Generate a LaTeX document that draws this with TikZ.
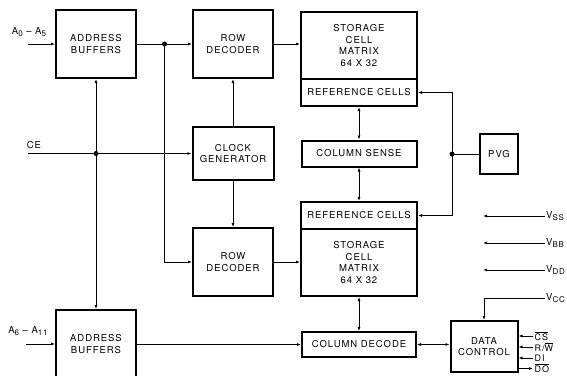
\documentclass[tikz,border=0pt]{standalone}
\usepackage{fontspec}
\newfontfamily\lbl[LetterSpace=10]{TeX Gyre Heros}
\usetikzlibrary{arrows.meta, calc}
\newcommand{\ovl}[1]{$\overline{\hbox{#1}}$}
\newcommand{\sub}[1]{\raisebox{-2.5pt}{\fontsize{8}{8}\selectfont #1}}

\begin{document}
\begin{tikzpicture}[x=1pt, y=-1pt,
        font=\lbl\fontsize{9.5}{11.5}\selectfont,
        blk/.style={draw, line width=2pt, inner sep=0pt, align=center},
        line/.style={-{Latex[length=4pt,width=3pt]}, line width=0.8pt},
        bidir/.style={{Latex[length=4pt,width=3pt]}-{Latex[length=4pt,width=3pt]}, line width=0.8pt},
        dot/.style={circle, fill, inner sep=0pt, minimum size=5pt},
        pin/.style={anchor=west, inner xsep=1.5pt, inner ysep=0pt, font=\lbl\fontsize{9}{10}\selectfont}
    ]
    \clip (0,0) rectangle (567,375);

    % Top half: address buffers, row decoder, matrix
    \node[blk, minimum width=80pt, minimum height=68pt] (abufA) at (96,44) {ADDRESS\\BUFFERS};
    \node[blk, minimum width=80pt, minimum height=68pt] (rdecA) at (233,44) {ROW\\DECODER};
    \node[blk, minimum width=116pt, minimum height=67pt] (matA) at (359,45.5) {STORAGE\\CELL\\MATRIX\\64 X 32};
    \node[blk, minimum width=116pt, minimum height=27pt] (refA) at (359,92.5) {REFERENCE CELLS};

    % Middle: clock, column sense, PVG
    \node[blk, minimum width=81pt, minimum height=53pt] (clk) at (233,153.5) {CLOCK\\GENERATOR};
    \node[blk, minimum width=115pt, minimum height=26pt] (csense) at (359,153.5) {COLUMN SENSE};
    \node[blk, minimum width=38pt, minimum height=40pt] (pvg) at (499,154) {PVG};

    % Bottom half
    \node[blk, minimum width=116pt, minimum height=27pt] (refB) at (359,215.5) {REFERENCE CELLS};
    \node[blk, minimum width=116pt, minimum height=67pt] (matB) at (359,262.5) {STORAGE\\CELL\\MATRIX\\64 X 32};
    \node[blk, minimum width=80pt, minimum height=68pt] (rdecB) at (233,262) {ROW\\DECODER};
    \node[blk, minimum width=114pt, minimum height=25pt] (cdec) at (359,344.5) {COLUMN DECODE};
    \node[blk, minimum width=67pt, minimum height=51pt] (dctl) at (484,346.5) {DATA\\CONTROL};
    \node[blk, minimum width=80pt, minimum height=68pt] (abufB) at (96,344) {ADDRESS\\BUFFERS};

    % Inputs
    \coordinate (ainA) at (28,44);
    \coordinate (ce) at (28,153.5);
    \coordinate (ainB) at (26,344);
    \node (lblA) at (29,32) {A\sub{0} – A\sub{5}};
    \node (lblCE) at (34,145) {CE};
    \node (lblB) at (28,331) {A\sub{6} – A\sub{11}};
    \draw[line] (ainA) -- (ainA -| abufA.west);
    \draw[line] (ce) -- (ce -| clk.west);
    \draw[line] (ainB) -- (ainB -| abufB.west);

    % Address paths
    \coordinate (jA) at ($(abufA.east)!0.5!(rdecA.west)$);
    \node[dot] (dA) at (jA) {};
    \node[dot] (dCE) at (abufA.south |- ce) {};
    \draw[line] (abufA.east) -- (rdecA.west);
    \draw[line] (jA) |- (rdecB.west);
    \draw[bidir] (abufA.south) -- (abufB.north);
    \draw[line] (abufB.east |- cdec.west) -- (cdec.west);

    % Clock outputs
    \draw[line] (clk.north) -- (clk.north |- rdecA.south);
    \draw[line] (clk.south) -- (clk.south |- rdecB.north);

    % Decoders to matrices
    \draw[line] (rdecA.east) -- (rdecA.east -| matA.west);
    \draw[line] (rdecB.east) -- (rdecB.east -| matB.west);

    % Sense and decode
    \draw[bidir] (refA.south) -- (csense.north);
    \draw[bidir] (csense.south) -- (refB.north);
    \draw[bidir] (matB.south) -- (cdec.north);
    \draw[bidir] (cdec.east) -- (cdec.east -| dctl.west);

    % PVG feeds reference cells
    \coordinate (jP) at (452,154);
    \node[dot] (dP) at (jP) {};
    \draw[line width=0.8pt] (pvg.west) -- (jP);
    \draw[line] (jP) |- (refA.east);
    \draw[line] (jP) |- (refB.east);

    % Supplies
    \coordinate (vss) at (545,216);
    \coordinate (vbb) at (545,243);
    \coordinate (vdd) at (545,270);
    \coordinate (vcc) at (545,298);
    \draw[line] (vss) -- (483,216);
    \draw[line] (vbb) -- (483,243);
    \draw[line] (vdd) -- (483,270);
    \draw[line] (vcc) -| (dctl.north);
    \node[anchor=west, inner sep=1pt] (lblSS) at (vss) {V\sub{SS}};
    \node[anchor=west, inner sep=1pt] (lblBB) at (vbb) {V\sub{BB}};
    \node[anchor=west, inner sep=1pt] (lblDD) at (vdd) {V\sub{DD}};
    \node[anchor=west, inner sep=1pt] (lblCC) at (vcc) {V\sub{CC}};

    % Data control pins
    \coordinate (cs) at (533,336);
    \coordinate (rw) at (533,347);
    \coordinate (di) at (533,358);
    \coordinate (do) at (533,368.5);
    \draw[line] (cs) -- (cs -| dctl.east);
    \draw[line] (rw) -- (rw -| dctl.east);
    \draw[line] (di) -- (di -| dctl.east);
    \draw[line] (do -| dctl.east) -- (do);
    \node[pin] (lblCS) at (cs) {\ovl{CS}};
    \node[pin] (lblRW) at (rw) {R/\ovl{W}};
    \node[pin] (lblDI) at (di) {DI};
    \node[pin] (lblDO) at (do) {\ovl{DO}};

\end{tikzpicture}
\end{document}
